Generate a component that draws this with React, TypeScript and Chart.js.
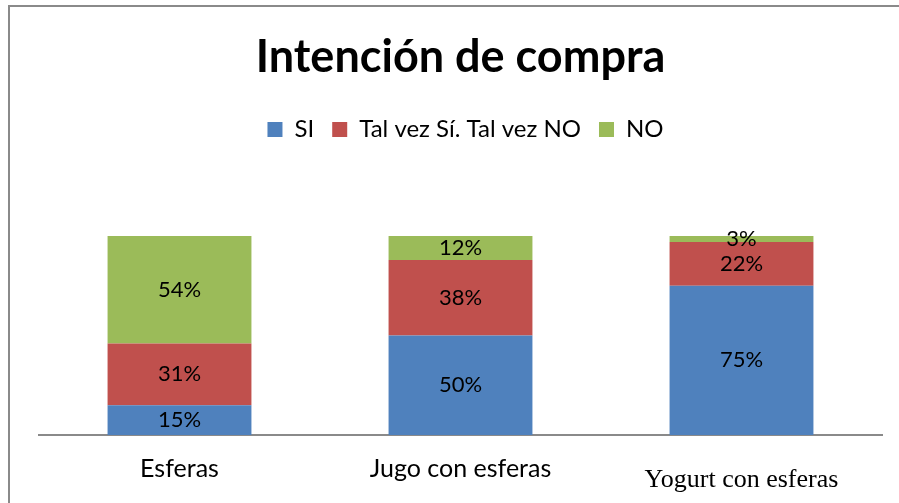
import React, { useEffect, useRef } from "react";
import { Chart, registerables } from "chart.js";

Chart.register(...registerables);

const categories = ["Esferas", "Jugo con esferas", "Yogurt con esferas"];
const seriesNames = ["SI", "Tal vez Sí. Tal vez NO", "NO"];
const siValues = [15, 50, 75];
const talVezValues = [31, 38, 22];
const noValues = [54, 12, 3];
const seriesColors = ["#4F81BD", "#C0504D", "#9BBB59"];
const chartTitle = "Intención de compra";

const SANS = "Lato, 'Noto Sans', sans-serif";
const SERIF = "'Liberation Serif', 'DejaVu Serif', serif";

const framePlugin = {
  id: "frame",
  beforeDraw(chart: any) {
    const ctx = chart.ctx;
    ctx.save();
    ctx.fillStyle = "#FFFFFF";
    ctx.fillRect(0, 0, chart.width, chart.height);
    ctx.fillStyle = "#8A8A8A";
    ctx.fillRect(8, 5, chart.width - 8, 2);
    ctx.fillRect(8, 5, 2, chart.height - 5);
    ctx.restore();
  },
};

const legendSpacer = {
  id: "legendSpacer",
  beforeLayout(chart: any) {
    const lg = chart.legend;
    if (lg && !lg.__patched) {
      const orig = lg.fit;
      lg.fit = function () {
        orig.call(this);
        this.height = 136.5;
      };
      lg.__patched = true;
    }
  },
  afterLayout(chart: any) {
    const lg = chart.legend;
    if (lg) {
      lg.left += 5;
      lg.right += 5;
    }
  },
};

const labelPlugin = {
  id: "segLabels",
  afterDatasetsDraw(chart: any) {
    const ctx = chart.ctx;
    ctx.save();
    ctx.font = `22px ${SANS}`;
    ctx.fillStyle = "#000000";
    ctx.textAlign = "center";
    ctx.textBaseline = "middle";
    chart.data.datasets.forEach((ds: any, di: number) => {
      const meta = chart.getDatasetMeta(di);
      meta.data.forEach((el: any, i: number) => {
        const v = ds.data[i];
        const { x, y, base } = el.getProps(["x", "y", "base"], true);
        ctx.fillText(`${v}%`, x, (y + base) / 2);
      });
    });
    ctx.restore();
  },
};

export default function App() {
  const ref = useRef<HTMLCanvasElement | null>(null);
  useEffect(() => {
    if (!ref.current) return;
    const values = [siValues, talVezValues, noValues];
    const chart = new Chart(ref.current, {
      type: "bar",
      data: {
        labels: categories,
        datasets: seriesNames.map((name, i) => ({
          label: name,
          data: values[i],
          backgroundColor: seriesColors[i],
          borderWidth: 0,
          barPercentage: 0.512,
          categoryPercentage: 1,
        })),
      },
      options: {
        animation: false,
        responsive: false,
        devicePixelRatio: 1,
        layout: { padding: { left: 39, right: 17, top: 0, bottom: 0 } },
        plugins: {
          title: {
            display: true,
            text: chartTitle,
            color: "#000000",
            font: { family: SANS, size: 45, weight: "bold", lineHeight: 1.2 },
            padding: { top: 30, bottom: 15.5 },
          },
          legend: {
            display: true,
            position: "top",
            labels: {
              color: "#000000",
              font: { family: SANS, size: 24 },
              boxWidth: 15,
              boxHeight: 15,
              padding: 18,
            },
          },
          tooltip: { enabled: false },
        },
        scales: {
          x: {
            stacked: true,
            grid: { display: false, drawTicks: false },
            border: { display: true, color: "#8A8A8A", width: 2 },
            ticks: {
              color: "#000000",
              padding: 19,
              font: (ctx: any) =>
                ctx.index === 2
                  ? { family: SERIF, size: 26, lineHeight: 2.0 }
                  : { family: SANS, size: 25, lineHeight: 1.2 },
            },
            afterFit(scale: any) {
              scale.height = 68;
            },
          },
          y: {
            stacked: true,
            display: false,
            min: 0,
            max: 100,
          },
        },
      },
      plugins: [framePlugin, legendSpacer, labelPlugin],
    });
    return () => chart.destroy();
  }, []);
  return (
    <div style={{ position: "fixed", left: 0, top: 0, width: 899, height: 503, overflow: "hidden", background: "#fff" }}>
      <canvas ref={ref} width={899} height={503} style={{ display: "block", width: 899, height: 503 }} />
    </div>
  );
}
